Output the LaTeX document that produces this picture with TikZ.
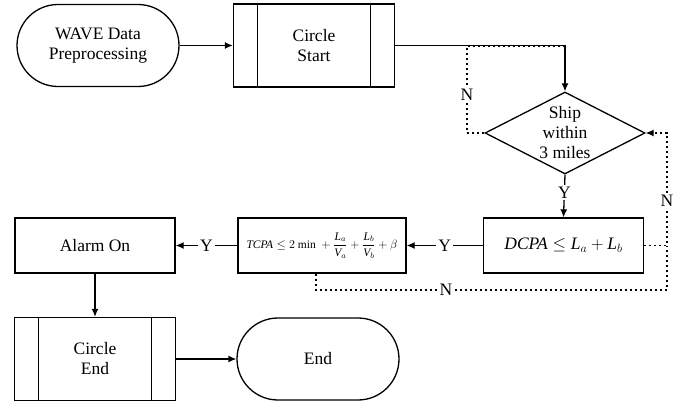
\documentclass[tikz,border=0pt]{standalone}
\usepackage{amsmath}
\usepackage{fontspec}
\setmainfont{Liberation Serif}
\usetikzlibrary{shapes.geometric,arrows.meta}

\tikzset{
  base/.style={draw, line width=1.3pt, align=center, inner sep=0pt,
    font=\fontsize{17.5}{20}\selectfont},
  term/.style={base, minimum width=162pt, minimum height=82pt, rounded corners=41pt},
  procbox/.style={base, minimum width=160pt, minimum height=55pt},
  subproc/.style={base, minimum width=161pt, minimum height=83pt,
    path picture={
      \draw[line width=1.3pt]
        ([xshift=24pt]path picture bounding box.north west) -- ([xshift=24pt]path picture bounding box.south west)
        ([xshift=-24pt]path picture bounding box.north east) -- ([xshift=-24pt]path picture bounding box.south east);
    }},
  decide/.style={base, diamond, aspect=2, minimum width=160pt, minimum height=82pt},
  flow/.style={line width=1.3pt, -{Latex[length=8pt,width=7pt]}},
  loopline/.style={line width=1.3pt, dash pattern=on 2pt off 3pt},
  yn/.style={fill=white, inner sep=2pt, font=\fontsize{17.5}{20}\selectfont}
}

\begin{document}
\begin{tikzpicture}[x=1pt,y=1pt]
            \useasboundingbox (0,0) rectangle (681,-404);

            % Top row
            \node[term] (wave) at (98,-45.5) {WAVE Data\\Preprocessing};
            \node[subproc] (cstart) at (314,-45.5) {Circle\\Start};
            \node[decide] (ship) at (565,-133) {Ship\\within\\3 miles};

            % Middle row
            \node[procbox] (dcpa) at (563.5,-245.5) {$\textit{DCPA} \leq \textit{L}_a + \textit{L}_b$};
            \node[procbox, minimum width=168pt, font=\fontsize{11.5}{13}\selectfont] (tcpa) at (322,-245.5)
                {$\textit{TCPA} \leq 2\ \text{min}\ +\dfrac{\textit{L}_a}{\textit{V}_a}+\dfrac{\textit{L}_b}{\textit{V}_b}+\beta$};
            \node[procbox] (alarm) at (95,-245.5) {Alarm On};

            % Bottom row
            \node[subproc] (cend) at (95,-359) {Circle\\End};
            \node[term] (end) at (318,-359) {End};

            % Corners of the N loops
            \coordinate (nback) at (467,-46.5);
            \coordinate (nright) at (667,-133);
            \coordinate (nlow) at (316,-290);

            % Main flow
            \draw[flow] (wave) -- (cstart);
            \draw[flow] (cstart.east) -| (ship.north);
            \draw[flow] (ship.south) -- node[yn, pos=0.42] {Y} (dcpa.north);
            \draw[flow] (dcpa.west) -- node[yn] {Y} (tcpa.east);
            \draw[flow] (tcpa.west) -- node[yn] {Y} (alarm.east);
            \draw[flow] (alarm) -- (cend);
            \draw[flow] (cend) -- (end);

            % N branches
            \draw[loopline] (ship.west) -| node[yn, pos=0.72] {N} (nback) -- (nback -| ship.north);
            \draw[loopline, -{Latex[length=8pt,width=7pt]}] (dcpa.east) -| node[yn, pos=0.7] {N} (nright) -- (ship.east);
            \draw[loopline] (tcpa.south -| nlow) -- (nlow) -- node[yn, pos=0.37] {N} (nlow -| nright) -- (dcpa.east -| nright);

\end{tikzpicture}
\end{document}
